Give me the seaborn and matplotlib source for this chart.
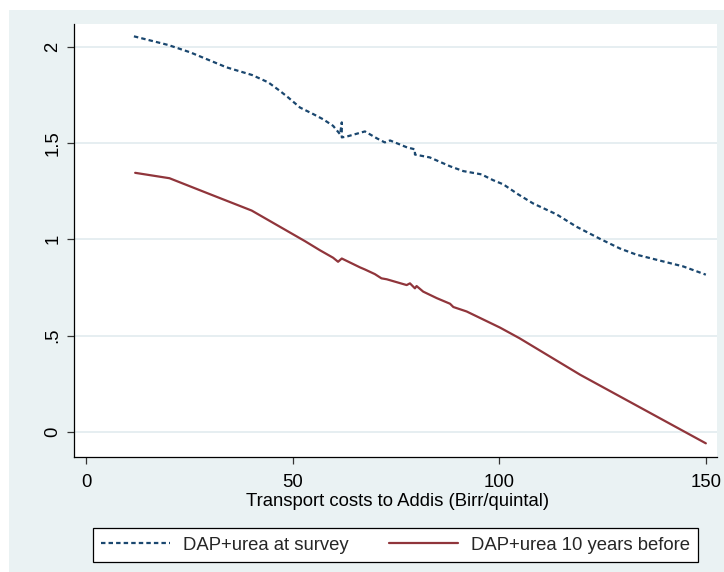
import matplotlib
matplotlib.use("Agg")
import matplotlib.pyplot as plt
import seaborn as sns
import pandas as pd
from matplotlib.patches import Rectangle

# ---- data ----
survey_x = [11.6, 19.9, 25.2, 34.0, 40.2, 44.1, 46.9, 48.9, 51.8, 55.0, 57.4, 59.8,
            61.5, 61.9, 61.9, 63.2, 67.5, 70.4, 72.3, 73.6, 77.7, 79.6, 79.6, 83.2,
            88.1, 91.3, 95.7, 98.5, 101.0, 104.6, 108.2, 113.9, 118.7, 124.4, 129.2,
            133.2, 138.9, 144.5, 150.0]
survey_y = [2.054, 2.009, 1.971, 1.893, 1.853, 1.815, 1.771, 1.737, 1.684, 1.650, 1.623, 1.589,
            1.545, 1.607, 1.529, 1.534, 1.560, 1.524, 1.503, 1.513, 1.477, 1.467, 1.440, 1.425,
            1.379, 1.354, 1.337, 1.307, 1.285, 1.233, 1.186, 1.129, 1.065, 1.002, 0.952,
            0.920, 0.889, 0.859, 0.816]

before_x = [11.9, 20.2, 30.0, 40.1, 53.0, 56.6, 59.8, 61.0, 61.9, 66.3, 67.5, 69.9,
            71.5, 72.8, 77.6, 78.4, 79.6, 80.0, 81.6, 84.9, 88.1, 88.9, 92.1, 100.2,
            104.9, 119.6, 150.0]
before_y = [1.345, 1.317, 1.234, 1.149, 0.990, 0.943, 0.904, 0.883, 0.900, 0.854, 0.843, 0.819,
            0.797, 0.792, 0.762, 0.771, 0.745, 0.757, 0.728, 0.694, 0.665, 0.648, 0.625, 0.541,
            0.486, 0.296, -0.060]

series_labels = ["DAP+urea at survey", "DAP+urea 10 years before"]
x_ticks = [0, 50, 100, 150]
y_ticks = [0, 0.5, 1, 1.5, 2]
y_tick_labels = ["0", ".5", "1", "1.5", "2"]
x_title = "Transport costs to Addis (Birr/quintal)"

# ---- style ----
sns.set_theme(style="white")
plt.rcParams['font.family'] = ['Liberation Sans', 'DejaVu Sans']

W, H = 724, 572
FS = 13.3
fig = plt.figure(figsize=(W / 100, H / 100), dpi=100)
fig.patch.set_facecolor('white')
fig.add_artist(Rectangle((9 / W, 0), 1 - 9 / W, 1 - 10 / H, transform=fig.transFigure,
                         facecolor='#eaf2f3', edgecolor='none', zorder=-10))

ax = fig.add_axes([74 / W, 1 - 457 / H, (717 - 74) / W, (457 - 24) / H])
ax.set_facecolor('white')

df_s = pd.DataFrame({"x": survey_x, "y": survey_y})
df_b = pd.DataFrame({"x": before_x, "y": before_y})

sns.lineplot(data=df_s, x="x", y="y", ax=ax, sort=False, estimator=None,
             color='#1a476f', linewidth=1.6, linestyle=(0, (2.0, 1.4)), legend=False)
sns.lineplot(data=df_b, x="x", y="y", ax=ax, sort=False, estimator=None,
             color='#90353b', linewidth=1.6, legend=False)

ax.set_xlim(-2.9, 152.7)
ax.set_ylim(-0.131, 2.118)
ax.set_xticks(x_ticks, [str(t) for t in x_ticks])
ax.set_yticks(y_ticks, y_tick_labels, rotation=90, va='center')

ax.tick_params(axis='both', direction='out', length=5, width=0.9, color='#333333',
               labelsize=FS, labelcolor='black', left=True, bottom=True)
ax.tick_params(axis='x', pad=7.5)
ax.tick_params(axis='y', pad=4)

ax.yaxis.grid(True, color='#e4edf0', linewidth=1.3)
ax.xaxis.grid(False)
ax.set_axisbelow(True)

for s in ['top', 'right']:
    ax.spines[s].set_visible(False)
for s in ['left', 'bottom']:
    ax.spines[s].set_color('black')
    ax.spines[s].set_linewidth(0.9)

ax.set_ylabel("")
ax.set_xlabel(x_title, fontsize=FS, color='black')
ax.xaxis.set_label_coords(0.503, -0.082)

handles = ax.lines[:2]
leg = fig.legend(handles, series_labels, loc='lower left',
                 bbox_to_anchor=(93 / W, 1 - 562 / H, 605 / W, 39 / H),
                 mode='expand', ncol=2, borderaxespad=0, frameon=True, fancybox=False,
                 edgecolor='black', facecolor='white', framealpha=1, fontsize=FS,
                 handlelength=3.7, handletextpad=0.7, borderpad=0.45)
leg.get_frame().set_linewidth(0.9)

fig.savefig("out.png", dpi=100)
